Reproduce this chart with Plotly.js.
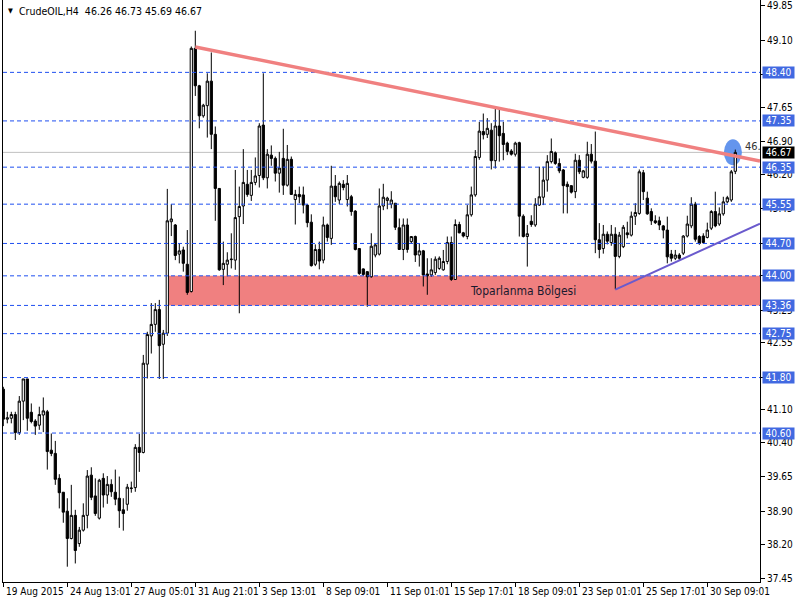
<!DOCTYPE html>
<html><head><meta charset="utf-8">
<script src="https://cdn.plot.ly/plotly-3.0.1.min.js"></script>
<style>html,body{margin:0;padding:0;background:#fff}#chart{width:800px;height:600px}</style>
</head><body><div id="chart"></div>
<script>
// ---- Data (H4 candles, CrudeOIL) ----
const openP = [41.55,40.90,40.92,41.00,40.61,41.29,41.77,41.05,40.86,40.77,40.99,41.06,40.23,40.16,39.62,39.32,38.91,38.32,38.82,38.21,
38.50,38.82,39.69,39.24,38.76,39.62,39.26,39.49,39.32,39.19,38.94,39.06,39.40,39.42,40.29,40.18,42.09,42.70,42.95,43.27,
42.52,42.76,45.17,45.10,44.47,44.56,44.25,43.66,48.92,48.11,47.46,47.68,48.21,47.06,45.89,44.14,44.25,44.35,44.34,45.28,
45.51,45.98,45.74,46.02,46.17,47.26,46.12,46.61,46.54,46.22,46.54,45.96,46.52,45.65,45.76,45.75,45.53,45.16,44.25,44.57,
44.34,45.10,44.81,45.94,45.64,45.98,45.65,45.71,45.40,44.59,44.15,44.09,43.98,44.45,44.47,45.51,45.63,45.55,45.57,45.04,
44.57,45.10,44.74,44.85,44.45,44.54,44.04,44.02,44.07,44.16,44.13,44.31,44.72,43.92,45.11,44.93,44.85,45.32,45.75,46.56,
47.12,47.06,47.15,46.49,47.24,47.08,46.87,46.70,46.63,46.88,45.29,44.85,45.18,45.10,45.53,45.70,46.07,46.47,46.66,46.43,
46.29,45.98,45.95,45.82,46.50,46.13,46.13,46.63,46.48,44.78,44.59,44.90,44.72,44.90,44.42,44.63,44.93,44.88,45.29,45.35,
46.23,45.68,45.39,45.19,45.19,45.08,44.99,44.47,44.38,44.45,44.49,44.86,45.08,45.55,44.85,44.86,44.83,45.03,45.39,45.12,
45.34,45.60,45.64,46.26];
const highP = [41.60,41.06,41.06,41.06,41.40,41.77,41.77,41.24,40.90,41.17,41.37,41.10,40.59,40.43,39.71,39.32,39.19,39.48,38.94,38.57,
39.08,39.80,39.86,39.62,39.61,39.73,39.67,39.60,39.81,39.66,39.19,39.50,39.55,40.36,40.58,42.29,42.79,43.41,43.41,43.48,
42.83,45.88,45.55,45.12,44.70,44.63,44.99,48.96,49.30,48.13,47.72,48.38,48.83,47.23,45.89,44.74,44.51,44.92,46.29,45.93,
46.74,46.29,46.29,46.56,47.30,48.38,46.74,46.82,46.58,46.68,47.18,46.83,46.58,45.86,45.93,45.93,45.55,45.33,44.68,44.74,
45.28,45.13,46.38,46.18,46.04,46.07,46.18,45.75,45.42,44.60,44.16,44.10,44.92,44.70,45.89,45.99,45.71,45.83,45.57,45.24,
45.24,45.24,44.85,44.87,44.70,44.56,44.38,44.38,44.42,44.42,44.56,44.85,44.85,45.22,45.17,44.95,45.53,45.93,46.72,47.33,
47.51,47.41,47.30,47.66,47.62,47.33,46.90,46.74,46.90,46.90,45.33,45.10,45.31,45.68,46.36,46.36,46.61,46.97,46.69,46.54,
46.31,46.04,45.96,46.64,46.61,46.29,46.90,46.85,47.12,45.14,45.10,44.96,45.10,45.05,44.95,45.10,45.17,45.39,45.57,46.30,
46.29,45.82,45.46,45.31,45.28,45.10,45.28,44.56,44.56,44.49,44.88,45.30,45.70,45.60,44.88,44.92,45.15,45.42,45.82,45.48,
45.71,45.73,46.29,46.73];
const lowP = [40.75,40.81,40.81,40.45,40.56,40.88,40.65,40.81,40.56,40.67,40.62,39.81,40.10,39.48,38.97,38.66,37.71,38.30,37.78,38.14,
38.47,38.54,39.15,38.81,38.73,38.99,39.07,39.22,39.04,38.55,38.49,38.92,39.31,39.33,39.76,40.16,41.78,42.32,42.79,41.77,
41.77,42.70,44.86,44.34,44.27,44.09,43.59,43.64,47.89,47.19,47.42,46.99,46.74,45.19,44.11,43.80,43.99,44.16,44.13,43.19,
45.12,45.71,45.62,45.96,45.91,46.07,45.89,46.38,46.04,45.80,45.75,45.93,45.75,45.11,45.57,45.35,45.05,44.20,44.21,44.14,
44.27,44.74,44.67,45.60,45.55,45.85,45.50,45.30,44.55,44.02,44.00,43.33,43.96,44.40,44.44,45.42,45.44,45.46,44.99,44.57,
44.34,44.50,44.70,44.30,44.20,43.77,43.59,43.98,44.02,44.13,44.11,44.25,43.89,43.91,44.92,44.83,44.79,45.28,45.71,46.51,
46.95,46.98,46.30,46.32,46.47,46.50,46.61,46.60,46.58,44.85,44.83,44.20,45.06,45.06,45.51,45.53,45.82,46.43,46.40,46.22,
45.35,45.35,45.78,45.68,46.20,46.11,46.10,46.43,44.49,44.38,44.48,44.68,44.65,43.71,44.38,44.60,44.81,44.85,45.10,45.32,
45.64,45.32,45.10,45.12,44.99,44.81,44.27,44.31,44.34,44.34,44.45,44.83,45.03,44.74,44.67,44.69,44.81,44.99,45.05,45.08,
45.30,45.57,45.60,46.20];
const closeP = [40.90,40.93,41.00,40.61,41.29,41.77,40.92,40.85,40.75,41.00,41.08,40.20,40.16,39.60,39.31,38.89,38.32,38.82,38.06,38.50,
38.82,39.67,39.21,38.86,39.58,39.26,39.49,39.33,39.17,38.92,38.86,39.43,39.41,40.29,40.18,42.11,42.73,42.95,43.27,42.49,
42.76,45.19,45.23,44.44,44.54,44.27,43.64,48.92,48.11,47.46,47.69,48.21,47.06,45.89,44.13,44.27,44.34,44.36,45.26,45.50,
46.02,45.76,46.02,46.16,47.24,46.12,46.63,46.54,46.22,46.33,45.96,46.52,45.76,45.76,45.71,45.53,45.15,44.22,44.57,44.32,
45.10,44.83,45.94,45.71,46.00,45.91,46.00,45.39,44.57,44.05,44.03,43.98,44.64,44.67,45.51,45.70,45.68,45.64,45.05,44.57,
45.10,44.57,44.85,44.45,44.54,44.02,44.00,44.13,44.36,44.38,44.31,44.72,43.92,45.11,44.93,44.86,45.32,45.75,46.58,47.13,
47.05,47.19,46.49,47.24,47.03,46.84,46.69,46.63,46.87,45.29,44.85,44.91,45.11,45.55,45.71,46.07,46.47,46.69,46.43,46.27,
45.95,45.93,45.81,46.50,46.25,46.27,46.63,46.48,44.78,44.57,44.90,44.75,44.90,44.42,44.88,45.05,44.89,45.29,45.37,46.25,
45.82,45.34,45.19,45.15,45.10,44.99,44.41,44.38,44.45,44.38,44.86,45.12,45.55,44.79,44.70,44.72,44.99,45.39,45.08,45.34,
45.60,45.69,46.25,46.67];

const xTickIdx = [0,16,32,48,64,80,96,112,128,144,160,176];
const xTickText = ["19 Aug 2015","24 Aug 13:01","27 Aug 05:01","31 Aug 21:01","3 Sep 13:01","8 Sep 09:01",
  "11 Sep 01:01","15 Sep 17:01","18 Sep 09:01","23 Sep 01:01","25 Sep 17:01","30 Sep 09:01"];
const yTickVals = [49.85,49.10,48.35,47.65,46.90,46.20,45.45,44.70,44.00,43.25,42.55,41.80,41.10,40.40,39.65,38.90,38.20,37.45];
const yTickHidden = [48.35,44.70,44.00,41.80];   // labels fully covered by level boxes
const levels = [48.40,47.35,46.35,45.55,44.70,44.00,43.36,42.75,41.80,40.60];
const lastPrice = 46.67;
const zoneBounds = [43.36,44.00];   // Toparlanma Bölgesi
const zoneStartIdx = 41.25;
const resistX = [48,123], resistY = [48.95,47.64];
const supportX = [153,175], supportY = [43.70,44.57];
const header = "CrudeOIL,H4  46.26 46.73 45.69 46.67";

// ---- geometry ----
const xMin = -0.075, xMax = 189.175;
const yMin = 37.379, yMax = 49.965;
const idx = openP.map((_, i) => i);
const FONT = "'DejaVu Sans Condensed','DejaVu Sans','Liberation Sans',sans-serif";
const LVL = '#1F4FF0';

function extend(xs, ys, xe) { const s = (ys[1]-ys[0])/(xs[1]-xs[0]); return ys[0] + s*(xe-xs[0]); }

const trace = {
  type: 'candlestick', x: idx, open: openP, high: highP, low: lowP, close: closeP,
  increasing: {line: {color: '#000', width: 1}, fillcolor: '#fff'},
  decreasing: {line: {color: '#000', width: 1}, fillcolor: '#000'},
  whiskerwidth: 0, hoverinfo: 'skip', showlegend: false
};

const shapes = [];
shapes.push({type:'rect', xref:'x', yref:'y', x0: zoneStartIdx, x1: xMax, y0: zoneBounds[0], y1: zoneBounds[1],
  fillcolor:'#F08080', line:{width:0}, layer:'below'});
shapes.push({type:'circle', xref:'x', yref:'y', xsizemode:'pixel', ysizemode:'pixel',
  xanchor: 182.4, yanchor: lastPrice, x0:-9, x1:9, y0:-13, y1:13,
  fillcolor:'#6495ED', line:{width:0}, layer:'below'});
levels.forEach(v => shapes.push({type:'line', xref:'paper', yref:'y', x0:0, x1:1, y0:v, y1:v,
  line:{color:LVL, width:1, dash:'4px,3px'}, layer:'above'}));
shapes.push({type:'line', xref:'paper', yref:'y', x0:0, x1:1, y0:lastPrice, y1:lastPrice,
  line:{color:'#C0C0C0', width:1}, layer:'below'});
shapes.push({type:'line', xref:'x', yref:'y', x0: resistX[0], y0: resistY[0], x1: xMax, y1: extend(resistX, resistY, xMax),
  line:{color:'#F08080', width:3.5}});
shapes.push({type:'line', xref:'x', yref:'y', x0: supportX[0], y0: supportY[0], x1: xMax, y1: extend(supportX, supportY, xMax),
  line:{color:'#6A5ACD', width:2}});

const annotations = [];
xTickIdx.forEach((t, i) => annotations.push({xref:'x', yref:'paper', x: t, y: 0, xanchor:'left', yanchor:'top',
  xshift: 1, yshift: -2, text: xTickText[i], showarrow:false, font:{family:FONT, size:10, color:'#000'}}));
levels.forEach(v => annotations.push({xref:'paper', yref:'y', x: 1, y: v, xanchor:'left', yanchor:'middle', xshift: 2,
  text: v.toFixed(2), showarrow:false, bgcolor:'#4169E1', borderpad:1, width:29, height:9,
  font:{family:FONT, size:10, color:'#fff'}}));
annotations.push({xref:'paper', yref:'y', x: 1, y: lastPrice, xanchor:'left', yanchor:'middle', xshift: 2,
  text: lastPrice.toFixed(2), showarrow:false, bgcolor:'#000', borderpad:1, width:29, height:9,
  font:{family:FONT, size:10, color:'#fff'}});
annotations.push({xref:'paper', yref:'paper', x: 0, y: 1, xanchor:'left', yanchor:'middle', xshift: 3, yshift: -11,
  text:'▼', showarrow:false, font:{family:FONT, size:7, color:'#000'}});
annotations.push({xref:'paper', yref:'paper', x: 0, y: 1, xanchor:'left', yanchor:'middle', xshift: 14, yshift: -11,
  text: header, showarrow:false, font:{family:FONT, size:10.5, color:'#000'}});
annotations.push({xref:'x', yref:'y', x: 130, y: (zoneBounds[0]+zoneBounds[1])/2, xanchor:'center', yanchor:'middle',
  text:'Toparlanma Bölgesi', showarrow:false, font:{family:FONT, size:12, color:'#1a1a2e'}});
annotations.push({xref:'x', yref:'y', x: 184.8, y: 46.80, xanchor:'left', yanchor:'middle',
  text:'46.', showarrow:false, font:{family:FONT, size:11, color:'#333'}});

const layout = {
  width: 800, height: 600, margin: {l:3, r:40, t:0, b:18},
  paper_bgcolor:'#fff', plot_bgcolor:'#fff', showlegend:false,
  xaxis: {range:[xMin, xMax], rangeslider:{visible:false}, showgrid:false, zeroline:false,
    showline:true, linecolor:'#000', linewidth:1, ticks:'outside', ticklen:4, tickcolor:'#000',
    tickmode:'array', tickvals: xTickIdx, showticklabels:false, fixedrange:true},
  yaxis: {range:[yMin, yMax], side:'right', showgrid:false, zeroline:false, showline:true, mirror:true,
    linecolor:'#000', linewidth:1, ticks:'outside', ticklen:4, tickcolor:'#000',
    tickmode:'array', tickvals: yTickVals,
    ticktext: yTickVals.map(v => yTickHidden.includes(v) ? '' : v.toFixed(2)),
    ticklabeloverflow:'allow',
    tickfont:{family:FONT, size:10, color:'#000'}, fixedrange:true},
  boxgap: 0.2,
  shapes: shapes, annotations: annotations
};
Plotly.newPlot('chart', [trace], layout, {staticPlot:true, displayModeBar:false});
</script></body></html>
